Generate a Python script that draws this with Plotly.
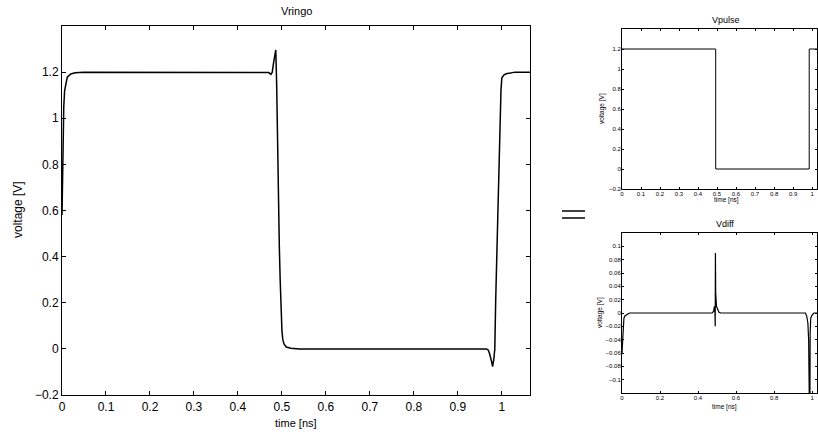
import plotly.graph_objects as go

# ---------------- data ----------------
t_ring = [0.0, 0.002, 0.004, 0.006, 0.009, 0.012, 0.02, 0.03, 0.05, 0.465, 0.470, 0.475,
          0.478, 0.481, 0.484, 0.486, 0.488, 0.490, 0.492, 0.494, 0.496, 0.498, 0.500,
          0.502, 0.505, 0.510, 0.520, 0.540, 0.965, 0.969, 0.972, 0.976, 0.979, 0.982,
          0.984, 0.986, 0.989, 0.992, 0.995, 0.998, 1.000, 1.005, 1.010, 1.020, 1.030, 1.064]
v_ring = [0.58, 0.85, 1.05, 1.12, 1.16, 1.178, 1.192, 1.197, 1.2, 1.2, 1.198, 1.19,
          1.2, 1.24, 1.28, 1.296, 1.15, 0.86, 0.65, 0.45, 0.30, 0.17, 0.08,
          0.04, 0.02, 0.008, 0.003, 0.0, 0.0, -0.005, -0.02, -0.05, -0.077, -0.04,
          0.0, 0.21, 0.45, 0.70, 0.95, 1.12, 1.175, 1.188, 1.193, 1.198, 1.2, 1.2]

t_pulse = [0.0, 0.493, 0.493, 0.985, 0.985, 1.064]
v_pulse = [1.2, 1.2, 0.0, 0.0, 1.2, 1.2]

t_diff = [0.0, 0.003, 0.006, 0.010, 0.016, 0.025, 0.04, 0.475, 0.482, 0.486, 0.489,
          0.4905, 0.4915, 0.493, 0.497, 0.502, 0.510, 0.520, 0.965, 0.972, 0.978,
          0.982, 0.984, 0.988, 0.990, 0.993, 1.000, 1.010, 1.064]
v_diff = [-0.06, -0.04, -0.02, -0.008, -0.004, -0.002, 0.0, 0.0, 0.003, 0.01, 0.0,
          -0.02, 0.09, 0.03, 0.01, 0.005, 0.001, 0.0, 0.0, -0.005, -0.015,
          -0.04, -0.2, -0.2, -0.03, -0.008, -0.003, 0.0, 0.0]

ring_xticks = [0, 0.1, 0.2, 0.3, 0.4, 0.5, 0.6, 0.7, 0.8, 0.9, 1]
ring_xlabels = ["0", "0.1", "0.2", "0.3", "0.4", "0.5", "0.6", "0.7", "0.8", "0.9", "1"]
ring_yticks = [-0.2, 0, 0.2, 0.4, 0.6, 0.8, 1.0, 1.2]
ring_ylabels = ["\u22120.2", "0", "0.2", "0.4", "0.6", "0.8", "1", "1.2"]
diff_xticks = [0, 0.2, 0.4, 0.6, 0.8, 1]
diff_xlabels = ["0", "0.2", "0.4", "0.6", "0.8", "1"]
diff_yticks = [-0.1, -0.08, -0.06, -0.04, -0.02, 0, 0.02, 0.04, 0.06, 0.08, 0.1]
diff_ylabels = ["\u22120.1", "\u22120.08", "\u22120.06", "\u22120.04", "\u22120.02", "0",
                "0.02", "0.04", "0.06", "0.08", "0.1"]

# ---------------- layout helpers ----------------
W, H = 818, 436
def px(x):
    return x / W
def py(y):
    return 1 - y / H

FONT = "Liberation Sans, Arial, sans-serif"

fig = go.Figure()
fig.add_trace(go.Scatter(x=t_ring, y=v_ring, mode="lines", xaxis="x", yaxis="y",
                         line=dict(color="black", width=1.5), showlegend=False))
fig.add_trace(go.Scatter(x=t_pulse, y=v_pulse, mode="lines", xaxis="x2", yaxis="y2",
                         line=dict(color="black", width=1), showlegend=False))
fig.add_trace(go.Scatter(x=t_diff, y=v_diff, mode="lines", xaxis="x3", yaxis="y3",
                         line=dict(color="black", width=1.2), showlegend=False))

def ax(domain, rng, tv, tt, anchor, fs, tl, so=0):
    return dict(domain=domain, range=rng, tickvals=tv, ticktext=tt, anchor=anchor,
                showline=True, linecolor="black", linewidth=1, mirror="ticks",
                ticks="inside", ticklen=tl, tickcolor="black", tickwidth=1,
                ticklabelstandoff=so,
                showgrid=False, zeroline=False, tickfont=dict(size=fs, color="black", family=FONT))

fig.update_layout(
    width=W, height=H, margin=dict(l=0, r=0, t=0, b=0, autoexpand=False),
    paper_bgcolor="white", plot_bgcolor="white",
    font=dict(family=FONT, color="black"),
    xaxis=ax([px(62), px(530)], [0, 1.064], ring_xticks, ring_xlabels, "y", 12, 4, 1),
    yaxis=ax([py(395), py(26)], [-0.2, 1.4], ring_yticks, ring_ylabels, "x", 12, 4),
    xaxis2=ax([px(622), px(817)], [0, 1.026], ring_xticks, ring_xlabels, "y2", 6, 2, -1),
    yaxis2=ax([py(189), py(29)], [-0.2, 1.4], ring_yticks, ring_ylabels, "x2", 6, 2, -1),
    xaxis3=ax([px(622), px(817)], [0, 1.026], diff_xticks, diff_xlabels, "y3", 6, 2, -1),
    yaxis3=ax([py(393), py(233)], [-0.12, 0.12], diff_yticks, diff_ylabels, "x3", 6, 2, -1),
)

def ann(text, x, y, size, angle=0):
    fig.add_annotation(text=text, x=px(x), y=py(y), xref="paper", yref="paper",
                       showarrow=False, xanchor="center", yanchor="middle",
                       textangle=angle, font=dict(size=size, color="black", family=FONT),
                       borderpad=0)

ann("Vringo", 296, 11, 11)
ann("time [ns]", 296, 423, 11)
ann("voltage [V]", 18, 210, 12, -90)
ann("Vpulse", 726, 20, 9)
ann("time [ns]", 726, 200, 6.5)
ann("voltage [V]", 602, 109, 6.5, -90)
ann("Vdiff", 725, 224, 9)
ann("time [ns]", 724, 407, 6.5)
ann("voltage [V]", 600, 313, 6.5, -90)

for yy in (211, 218):
    fig.add_shape(type="line", xref="paper", yref="paper",
                  x0=px(562), x1=px(585), y0=py(yy), y1=py(yy),
                  line=dict(color="black", width=1.5))

# remove the default page margin so the 818x436 figure fills the window exactly
fig.write_html("out.html", config={"displayModeBar": False},
               post_script="document.body.style.margin='0';document.body.style.overflow='hidden';")
